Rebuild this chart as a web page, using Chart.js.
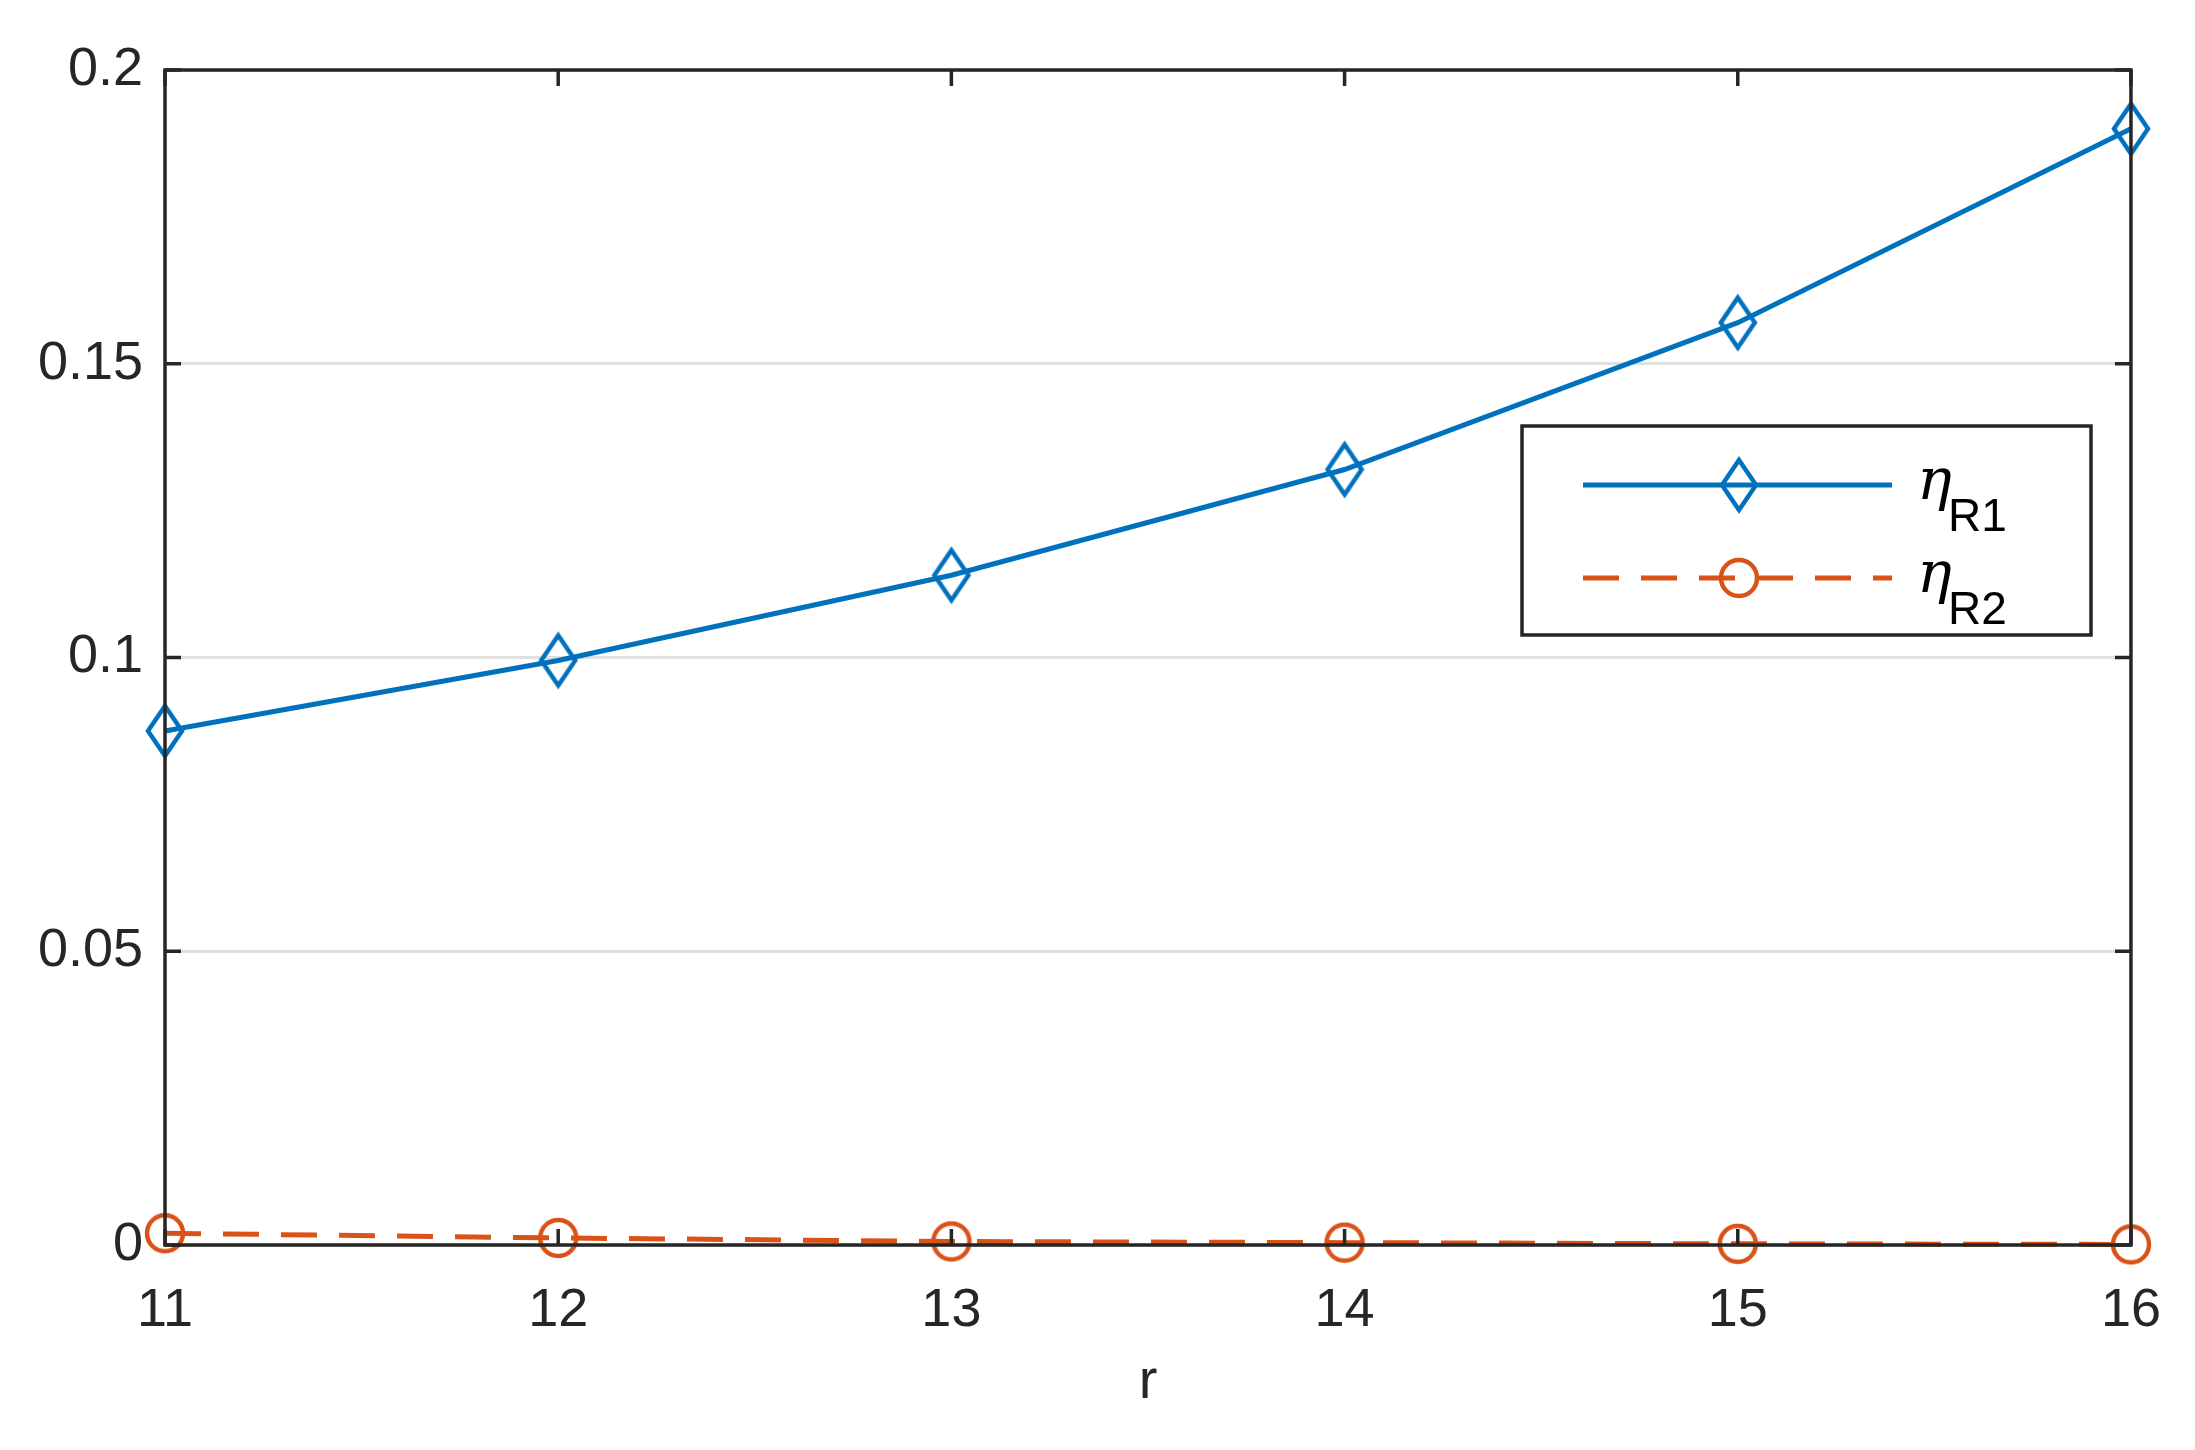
<!DOCTYPE html>
<html>
<head>
  <meta charset="utf-8">
  <script src="https://cdn.jsdelivr.net/npm/chart.js@4.4.0/dist/chart.umd.min.js"></script>
  <style>
    body { margin:0; background:#fff; }
    #wrap { width:2195px; height:1450px; }
  </style>
</head>
<body>
  <div id="wrap"><canvas id="c"></canvas></div>
  <script>
    let rValues = [11, 12, 13, 14, 15, 16];
    let etaR1 = [0.0875, 0.0995, 0.114, 0.132, 0.157, 0.190];
    let etaR2 = [0.0020, 0.0012, 0.0006, 0.0004, 0.0002, 0.0001];
    let yTicks = [0, 0.05, 0.1, 0.15, 0.2];
    let seriesNames = ["R1", "R2"];

    const BLUE = "#0072BD", ORANGE = "#D95319", FONT = "'Liberation Sans', Arial, sans-serif";

    // tall MATLAB-style diamond and circle markers
    function drawDiamond(ctx, cx, cy) {
      ctx.beginPath();
      ctx.moveTo(cx, cy - 25); ctx.lineTo(cx + 17, cy); ctx.lineTo(cx, cy + 25); ctx.lineTo(cx - 17, cy); ctx.closePath();
      ctx.stroke();
    }
    function makeMarker(kind, color) {
      let c = document.createElement("canvas");
      c.width = 60; c.height = 60;
      let g = c.getContext("2d");
      g.strokeStyle = color; g.lineWidth = 4.5;
      if (kind === "diamond") drawDiamond(g, 30, 30);
      else { g.beginPath(); g.arc(30, 30, 18, 0, Math.PI * 2); g.stroke(); }
      return c;
    }
    let diamondImg = makeMarker("diamond", BLUE);
    let circleImg = makeMarker("circle", ORANGE);

    let boxPlugin = {
      id: "box",
      afterDraw(chart) {
        let ctx = chart.ctx, a = chart.chartArea, x = chart.scales.x, y = chart.scales.y;
        ctx.save();
        ctx.strokeStyle = "#262626";
        ctx.lineWidth = 3.5;
        ctx.strokeRect(a.left, a.top, a.right - a.left, a.bottom - a.top);
        let t = 16;
        ctx.beginPath();
        rValues.forEach(v => {
          let px = x.getPixelForValue(v);
          ctx.moveTo(px, a.bottom); ctx.lineTo(px, a.bottom - t);
          ctx.moveTo(px, a.top); ctx.lineTo(px, a.top + t);
        });
        yTicks.forEach(v => {
          let py = y.getPixelForValue(v);
          ctx.moveTo(a.left, py); ctx.lineTo(a.left + t, py);
          ctx.moveTo(a.right, py); ctx.lineTo(a.right - t, py);
        });
        ctx.stroke();

        // legend
        let lx = 1522, ly = 426, lw = 569, lh = 209;
        ctx.fillStyle = "#fff";
        ctx.fillRect(lx, ly, lw, lh);
        ctx.lineWidth = 3.5;
        ctx.strokeRect(lx, ly, lw, lh);
        let rows = [ly + 59, ly + 152];
        chart.data.datasets.forEach((ds, i) => {
          let yy = rows[i];
          ctx.strokeStyle = ds.borderColor;
          ctx.lineWidth = 5;
          ctx.setLineDash(ds.borderDash || []);
          ctx.beginPath(); ctx.moveTo(lx + 61, yy); ctx.lineTo(lx + 370, yy); ctx.stroke();
          ctx.setLineDash([]);
          ctx.drawImage(i === 0 ? diamondImg : circleImg, lx + 217 - 30, yy - 30);
          ctx.fillStyle = "#000";
          ctx.font = "italic 58px 'DejaVu Serif', serif";
          ctx.textBaseline = "alphabetic";
          ctx.fillText("η", lx + 395, yy + 14);
          ctx.font = "46px " + FONT;
          ctx.fillText(seriesNames[i], lx + 426, yy + 46);
        });
        ctx.restore();
      }
    };

    new Chart(document.getElementById("c"), {
      type: "line",
      plugins: [boxPlugin],
      data: {
        datasets: [
          {
            label: "ηR1",
            data: rValues.map((r, i) => ({x: r, y: etaR1[i]})),
            borderColor: BLUE, borderWidth: 5,
            pointStyle: diamondImg, pointRadius: 25,
            tension: 0
          },
          {
            label: "ηR2",
            data: rValues.map((r, i) => ({x: r, y: etaR2[i]})),
            borderColor: ORANGE, borderWidth: 5, borderDash: [36, 22],
            pointStyle: circleImg, pointRadius: 20,
            tension: 0
          }
        ]
      },
      options: {
        responsive: true,
        maintainAspectRatio: false,
        animation: false,
        clip: false,
        layout: { padding: { top: 70, right: 62, left: 0, bottom: 30 } },
        plugins: { legend: { display: false }, tooltip: { enabled: false } },
        scales: {
          x: {
            type: "linear", min: 11, max: 16,
            afterBuildTicks: s => { s.ticks = rValues.map(v => ({value: v})); },
            afterFit: s => { s.height = 175; },
            grid: { display: false, drawTicks: false },
            border: { display: false },
            ticks: { color: "#262626", font: { family: FONT, size: 54 }, padding: 34, maxRotation: 0 },
            title: { display: true, text: "r", color: "#262626", font: { family: FONT, size: 56 }, padding: { top: 0 } }
          },
          y: {
            min: 0, max: 0.2,
            afterBuildTicks: s => { s.ticks = yTicks.map(v => ({value: v})); },
            afterFit: s => { s.width = 165; },
            grid: { color: "#e0e0e0", lineWidth: 3, drawTicks: false },
            border: { display: false },
            ticks: { color: "#262626", font: { family: FONT, size: 54 }, padding: 22,
              callback: v => String(Number(v.toFixed(2))) }
          }
        }
      }
    });
  </script>
</body>
</html>
